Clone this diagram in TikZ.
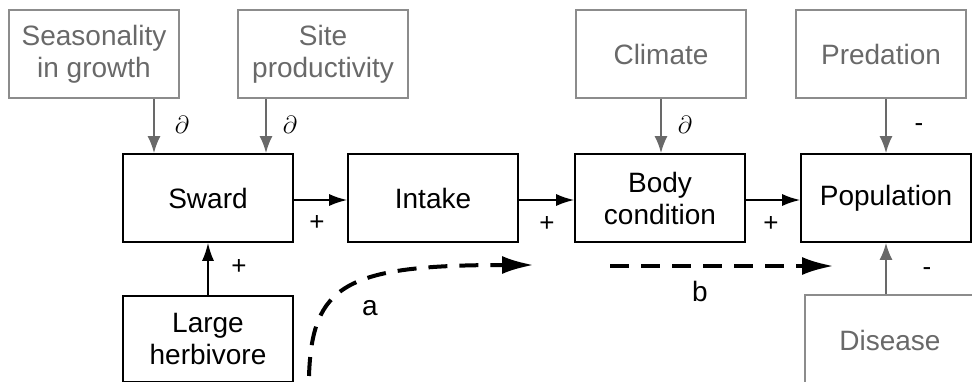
\documentclass[tikz,border=0pt]{standalone}
\usepackage{fontspec}
\setmainfont{Liberation Sans}
\usetikzlibrary{arrows.meta}
\definecolor{gtext}{RGB}{105,105,105}
\definecolor{gbord}{RGB}{140,140,140}
\definecolor{garr}{RGB}{105,105,105}
\begin{document}
\begin{tikzpicture}[x=1pt,y=-1pt,
  every node/.style={font=\fontsize{28}{32}\selectfont},
  mainbox/.style={draw=black,line width=1.6pt,minimum width=170pt,minimum height=88pt,align=center,inner sep=0pt},
  extbox/.style={draw=gbord,line width=1.6pt,minimum width=170pt,minimum height=88pt,align=center,text=gtext,inner sep=0pt},
  barrow/.style={draw=black,line width=1.8pt,-{Latex[length=18pt,width=12pt]}},
  garrow/.style={draw=garr,line width=2pt,-{Latex[length=17pt,width=13pt]}},
  darrow/.style={draw=black,line width=4pt,dash pattern=on 19pt off 12pt,-{Latex[length=32pt,width=18pt]}},
  sign/.style={font=\fontsize{26}{30}\selectfont},
  pd/.style={font=\fontsize{32}{34}\selectfont}
  ]
\useasboundingbox (0,0) rectangle (972,381);
\clip (0,0) rectangle (972,381);
% external boxes
\node[extbox] (seas) at (94,54) {Seasonality\\in growth};
\node[extbox] (site) at (323,54) {Site\\productivity};
\node[extbox] (clim) at (661,54) {Climate};
\node[extbox] (pred) at (881,54) {Predation};
\node[extbox,minimum height=90pt] (dis) at (890,340) {Disease};
% main boxes
\node[mainbox] (sward) at (208,198) {Sward};
\node[mainbox] (intake) at (433,198) {Intake};
\node[mainbox] (body) at (660,198) {Body\\condition};
\node[mainbox] (pop) at (886,198) {Population};
\node[mainbox,minimum height=86pt] (herb) at (208,339) {Large\\herbivore};
% gray arrows
\coordinate (a1) at ([xshift=60pt]seas.south);
\coordinate (a2) at ([xshift=-57pt]site.south);
\draw[garrow] (a1) -- (a1 |- sward.north);
\draw[garrow] (a2) -- (a2 |- sward.north);
\draw[garrow] (clim.south) -- (clim.south |- body.north);
\draw[garrow] (pop.north |- pred.south) -- (pop.north);
\draw[garrow] (pop.south |- dis.north) -- (pop.south);
% black arrows
\draw[barrow] ([yshift=-2pt]sward.east) -- ([yshift=-2pt]intake.west);
\draw[barrow] ([yshift=-2pt]intake.east) -- ([yshift=-2pt]body.west);
\draw[barrow] ([yshift=-2pt]body.east) -- ([yshift=-2pt]pop.west);
\draw[barrow] (herb.north) -- (sward.south);
% dashed arrows
\coordinate (da0) at (309,376);
\coordinate (da1) at (534,265);
\coordinate (db0) at (610,266);
\coordinate (db1) at (834,266);
\draw[darrow] (da0) .. controls (312,285) and (345,265) .. (da1);
\draw[darrow] (db0) -- (db1);
% labels
\node[pd] (p1) at (182,125) {$\partial$};
\node[pd] (p2) at (290,125) {$\partial$};
\node[pd] (p3) at (685,125) {$\partial$};
\node[sign] (m1) at (919,128) {-};
\node[sign] (m2) at (927,272) {-};
\node[sign] (s1) at (317,223) {+};
\node[sign] (s2) at (547,224) {+};
\node[sign] (s3) at (771,224) {+};
\node[sign] (s4) at (239,267) {+};
\node (la) at (370,308) {a};
\node (lb) at (700,291) {b};
\end{tikzpicture}
\end{document}
